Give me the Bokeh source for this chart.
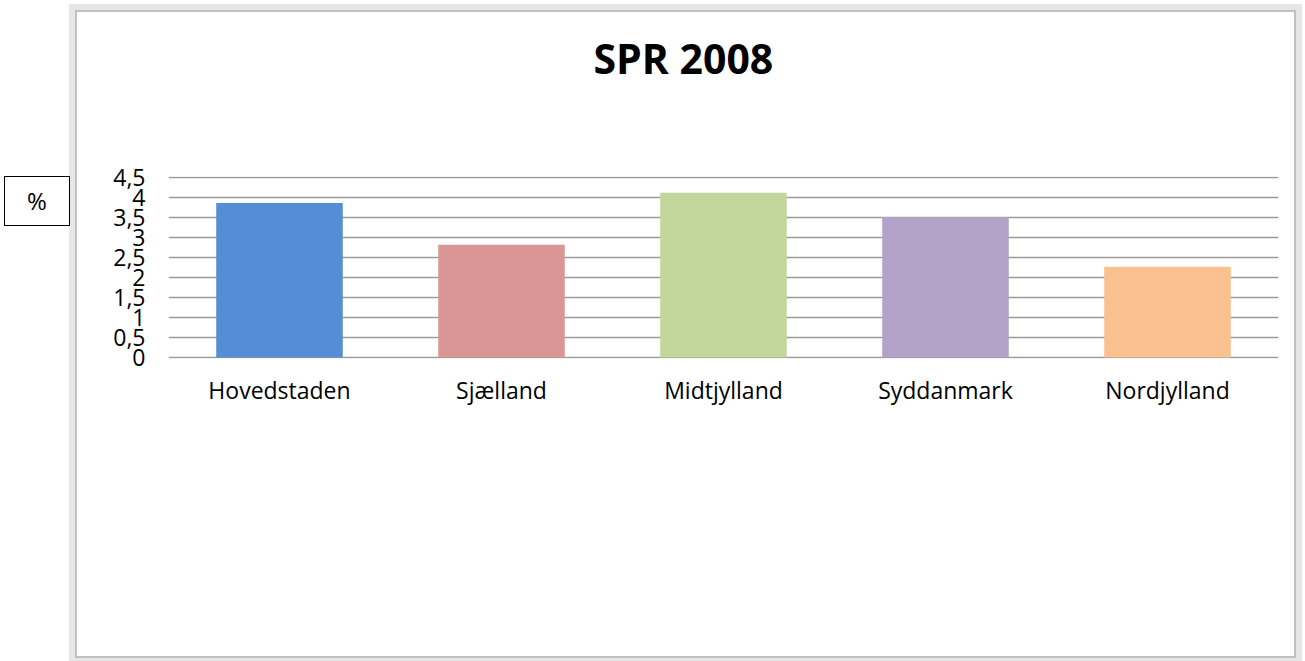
from bokeh.plotting import figure
from bokeh.models import FixedTicker, FactorRange, Range1d, Div, Title
from bokeh.layouts import row
from bokeh.embed import file_html
from bokeh.resources import INLINE

regions = ["Hovedstaden", "Sjælland", "Midtjylland", "Syddanmark", "Nordjylland"]
values = [3.86, 2.82, 4.12, 3.51, 2.27]
colors = ["#558ed5", "#d99694", "#c3d69b", "#b3a2c7", "#fac090"]
y_ticks = [0, 0.5, 1, 1.5, 2, 2.5, 3, 3.5, 4, 4.5]
y_tick_labels = ["0", "0,5", "1", "1,5", "2", "2,5", "3", "3,5", "4", "4,5"]
title_text = "SPR 2008"
unit_text = "%"

p = figure(width=1217, height=644, x_range=FactorRange(*regions), y_range=Range1d(-0.025, 4.525),
           output_backend="svg", toolbar_location=None, title=title_text,
           min_border_left=91, min_border_right=16, min_border_top=164, min_border_bottom=298,
           margin=(12, 0, 0, 7),
           styles={"outline": "2px solid #c0c0c0", "box-shadow": "0 0 0 8px #e6e6e6"})
p.background_fill_color = "white"
p.border_fill_color = "white"
p.outline_line_color = None

p.title.align = "left"
p.title.offset = 425
p.title.vertical_align = "bottom"
p.title.standoff = 0
p.title.text_font = "Open Sans"
p.title.text_font_style = "bold"
p.title.text_font_size = "41px"
p.title.text_color = "black"

# empty spacer between title and plot area
p.add_layout(Title(text=" ", text_font_size="1px", standoff=88), "above")

p.vbar(x=regions, top=values, width=0.57, color=colors, line_color=None)

p.xgrid.grid_line_color = None
p.ygrid.grid_line_color = "#9a9a9a"
p.ygrid.grid_line_width = 1.5
p.yaxis.ticker = FixedTicker(ticks=y_ticks)
p.yaxis.major_label_overrides = {t: l for t, l in zip(y_ticks, y_tick_labels)}

for ax in (p.xaxis[0], p.yaxis[0]):
    ax.axis_line_color = None
    ax.major_tick_line_color = None
    ax.minor_tick_line_color = None
    ax.major_tick_out = 0
    ax.major_tick_in = 0
    ax.major_label_text_font = "Open Sans"
    ax.major_label_text_color = "black"

p.yaxis.major_label_text_font_size = "23px"
p.yaxis.major_label_standoff = 23
p.xaxis.major_label_text_font_size = "23px"
p.xaxis.major_label_standoff = 15

unit_box = Div(text='<span style="font-family:\'Open Sans\';font-size:24px;color:black">' + unit_text + '</span>',
               width=66, height=50, margin=(176, 0, 0, 4),
               styles={"border": "1.5px solid black", "box-sizing": "border-box",
                       "text-align": "center", "line-height": "47px",
                       "background": "white", "z-index": "2"})

layout = row(unit_box, p)
open("out.html", "w").write(file_html(layout, INLINE))
